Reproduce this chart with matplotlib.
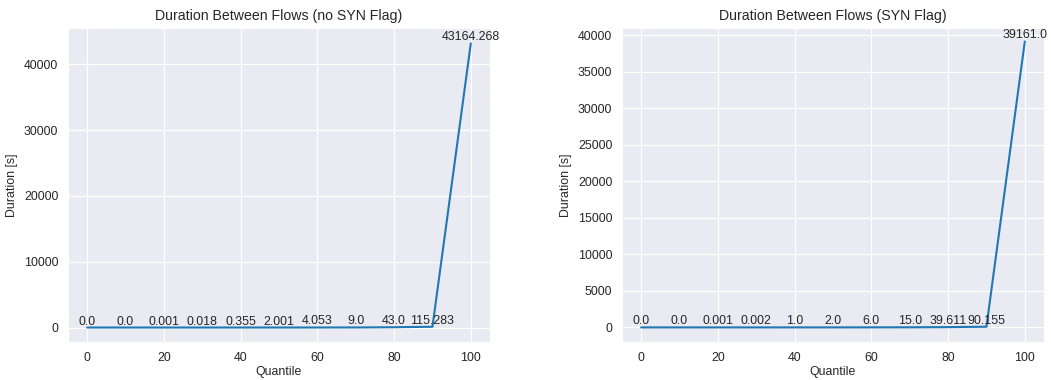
import matplotlib
matplotlib.use("Agg")
import matplotlib.pyplot as plt
import seaborn as sns

quantiles = [0, 10, 20, 30, 40, 50, 60, 70, 80, 90, 100]
no_syn = [0.0, 0.0, 0.001, 0.018, 0.355, 2.001, 4.053, 9.0, 43.0, 115.283, 43164.268]
syn = [0.0, 0.0, 0.001, 0.002, 1.0, 2.0, 6.0, 15.0, 39.611, 90.155, 39161.0]
titles = ["Duration Between Flows (no SYN Flag)", "Duration Between Flows (SYN Flag)"]

sns.set_style("darkgrid")
plt.rcParams['font.family'] = ['Liberation Sans', 'DejaVu Sans']
fs = 8.9

fig = plt.figure(figsize=(10.51, 3.80), dpi=100)
ax1 = fig.add_axes([68 / 1051, 1 - 342 / 380, 422 / 1051, 314 / 380])
ax2 = fig.add_axes([622 / 1051, 1 - 342 / 380, 422 / 1051, 314 / 380])

for ax, vals, title in zip([ax1, ax2], [no_syn, syn], titles):
    ax.plot(quantiles, vals, color="#1f77b4", linewidth=1.5)
    for q, v in zip(quantiles, vals):
        ax.annotate(str(v), (q, v), ha="center", va="bottom", fontsize=fs, color="#262626")
    ax.set_title(title, fontsize=10.2, color="#262626")
    ax.set_xlabel("Quantile", fontsize=fs, labelpad=2)
    ax.set_ylabel("Duration [s]", fontsize=fs)
    ax.tick_params(labelsize=fs)
    ax.set_xticks([0, 20, 40, 60, 80, 100])

ax1.set_ylim(-2200, 45500)
ax1.set_yticks([0, 10000, 20000, 30000, 40000])
ax2.set_ylim(-2000, 41000)
ax2.set_yticks(range(0, 40001, 5000))

fig.savefig("out.png", dpi=100)
